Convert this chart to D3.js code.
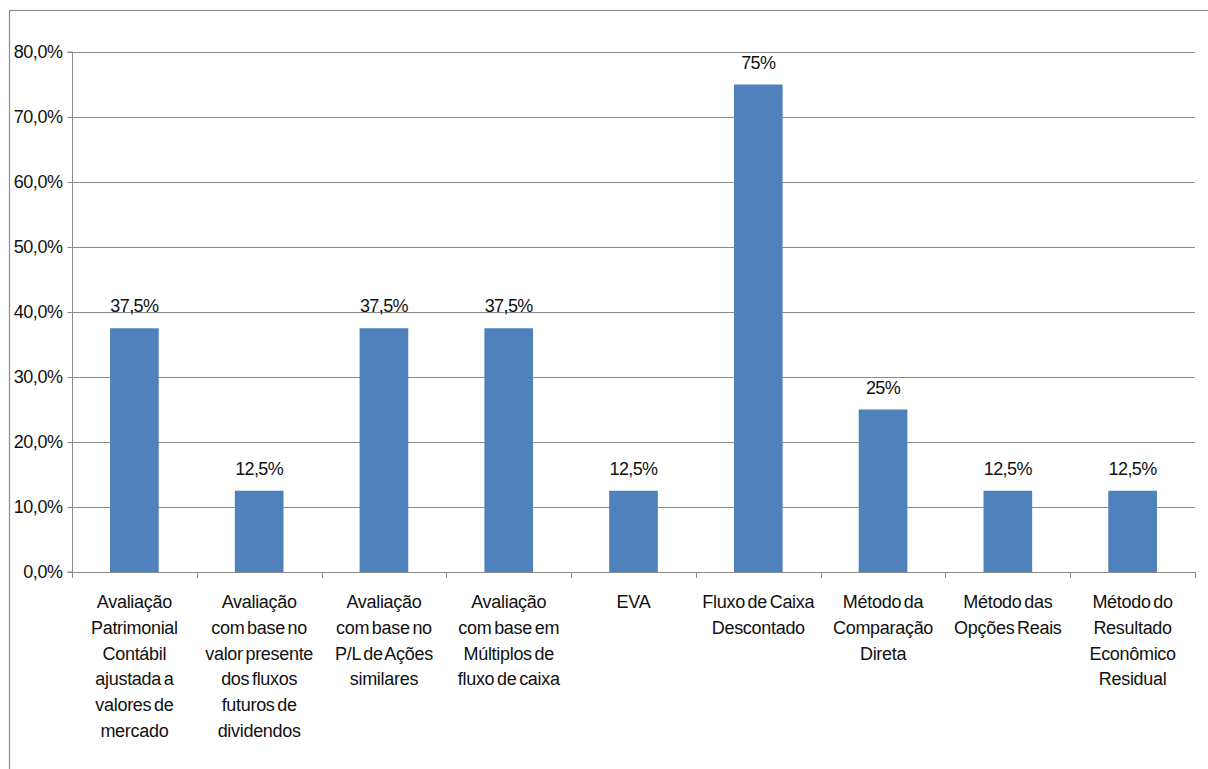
<!DOCTYPE html>
<html>
<head>
<meta charset="utf-8">
<script src="https://cdn.jsdelivr.net/npm/d3@7"></script>
<style>
  html, body { margin: 0; padding: 0; background: #fff; }
  svg { display: block; font-family: "Liberation Sans", Arial, sans-serif; }
</style>
</head>
<body>
<svg id="chart" width="1208" height="769"></svg>
<script>
// Métodos de avaliação citados (percentual de respostas)
const categories = [
  "Avaliação\nPatrimonial\nContábil\najustada a\nvalores de\nmercado",
  "Avaliação\ncom base no\nvalor presente\ndos fluxos\nfuturos de\ndividendos",
  "Avaliação\ncom base no\nP/L de Ações\nsimilares",
  "Avaliação\ncom base em\nMúltiplos de\nfluxo de caixa",
  "EVA",
  "Fluxo de Caixa\nDescontado",
  "Método da\nComparação\nDireta",
  "Método das\nOpções Reais",
  "Método do\nResultado\nEconômico\nResidual"
];
const values = [37.5, 12.5, 37.5, 37.5, 12.5, 75, 25, 12.5, 12.5];
const yTicks = [0, 10, 20, 30, 40, 50, 60, 70, 80];

const ptBR = d3.formatLocale({ decimal: ",", thousands: ".", grouping: [3], currency: ["R$", ""] });
const fmtTick = v => ptBR.format(".1f")(v) + "%";
const fmtValue = v => (Number.isInteger(v) ? ptBR.format("d")(v) : ptBR.format(".1f")(v)) + "%";

const svg = d3.select("#chart");
const plot = { left: 72, right: 1195, top: 52, bottom: 572 };

// Frame around the chart area
svg.append("rect")
  .attr("x", 9.5).attr("y", 10.5)
  .attr("width", 1220).attr("height", 800)
  .attr("fill", "none").attr("stroke", "#8c8c8c").attr("stroke-width", 1.2);

const x = d3.scaleBand()
  .domain(d3.range(categories.length))
  .range([plot.left, plot.right])
  .paddingInner(0.61).paddingOuter(0.305);

const y = d3.scaleLinear().domain([0, 80]).range([plot.bottom, plot.top]);

// Horizontal gridlines
svg.append("g")
  .selectAll("line")
  .data(yTicks.filter(t => t > 0))
  .join("line")
  .attr("x1", plot.left).attr("x2", plot.right)
  .attr("y1", d => Math.round(y(d)) + 0.5).attr("y2", d => Math.round(y(d)) + 0.5)
  .attr("stroke", "#8a8a8a").attr("stroke-width", 1);

// Bars
svg.append("g")
  .selectAll("rect")
  .data(values)
  .join("rect")
  .attr("x", (d, i) => x(i))
  .attr("width", x.bandwidth())
  .attr("y", d => y(d))
  .attr("height", d => y(0) - y(d))
  .attr("fill", "#4f81bd");

// Value labels
svg.append("g")
  .selectAll("text")
  .data(values)
  .join("text")
  .attr("x", (d, i) => x(i) + x.bandwidth() / 2)
  .attr("y", d => y(d) - 16)
  .attr("text-anchor", "middle")
  .attr("font-size", 18)
  .attr("letter-spacing", -0.6)
  .attr("fill", "#111")
  .text(d => fmtValue(d));

// Y axis
const yAxis = d3.axisLeft(y).tickValues(yTicks).tickSize(5).tickPadding(5).tickFormat(fmtTick);
const gy = svg.append("g").attr("transform", `translate(${plot.left + 0.5},0)`).call(yAxis);
gy.select(".domain").attr("stroke", "#8a8a8a").attr("d", `M-5,${plot.top}H0V${plot.bottom}H-5`);
gy.selectAll(".tick line").attr("stroke", "#8a8a8a");
gy.selectAll(".tick text")
  .attr("font-size", 18).attr("letter-spacing", -0.45)
  .attr("fill", "#111").attr("font-family", "Liberation Sans, Arial, sans-serif");

// Category axis: baseline and boundary ticks
const bounds = d3.range(categories.length + 1).map(i => plot.left + i * (plot.right - plot.left) / categories.length);
const gx = svg.append("g");
gx.append("line")
  .attr("x1", plot.left).attr("x2", plot.right)
  .attr("y1", plot.bottom + 0.5).attr("y2", plot.bottom + 0.5)
  .attr("stroke", "#8a8a8a");
gx.selectAll("line.tk")
  .data(bounds)
  .join("line").attr("class", "tk")
  .attr("x1", d => Math.round(d) + 0.5).attr("x2", d => Math.round(d) + 0.5)
  .attr("y1", plot.bottom).attr("y2", plot.bottom + 6)
  .attr("stroke", "#8a8a8a");

// Category labels (wrapped lines)
const labels = gx.selectAll("text.cat")
  .data(categories)
  .join("text").attr("class", "cat")
  .attr("text-anchor", "middle")
  .attr("font-size", 18)
  .attr("letter-spacing", -0.3)
  .attr("word-spacing", -2)
  .attr("fill", "#111");
labels.each(function(d, i) {
  const cx = x(i) + x.bandwidth() / 2;
  d3.select(this).selectAll("tspan")
    .data(d.split("\n"))
    .join("tspan")
    .attr("x", cx)
    .attr("y", (s, k) => 608 + k * 25.8)
    .text(s => s);
});
</script>
</body>
</html>
